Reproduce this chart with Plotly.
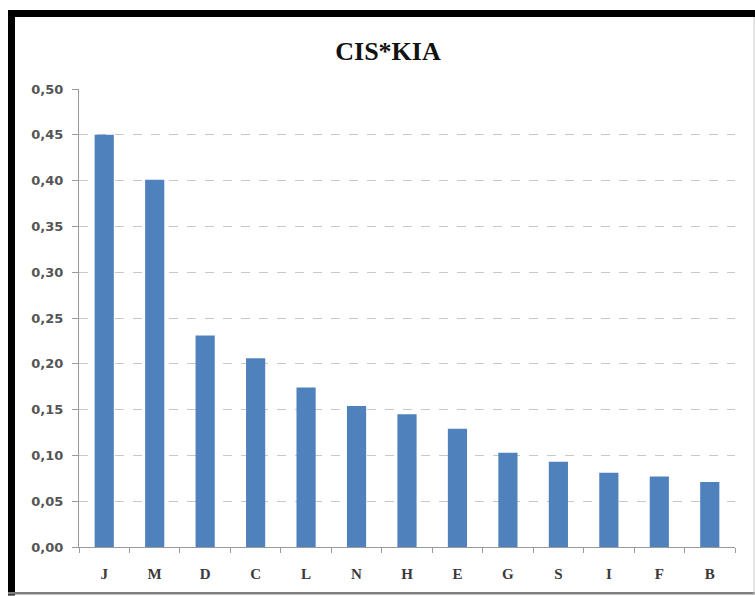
import plotly.graph_objects as go

categories = ["J", "M", "D", "C", "L", "N", "H", "E", "G", "S", "I", "F", "B"]
values = [0.450, 0.401, 0.231, 0.206, 0.174, 0.154, 0.145, 0.129, 0.103, 0.093, 0.081, 0.077, 0.071]
y_ticks = [0.0, 0.05, 0.10, 0.15, 0.20, 0.25, 0.30, 0.35, 0.40, 0.45, 0.50]

W, H = 755, 596
ML, MR, MT, MB = 79, 20, 89, 48.5
PW, PH = W - ML - MR, H - MT - MB


def px(x):
    return (x - ML) / PW


def py(y):
    return (H - MB - y) / PH


fig = go.Figure(
    go.Bar(
        x=categories,
        y=values,
        marker=dict(color="#4F81BD", line=dict(width=0)),
        width=0.38,
    )
)

P = dict(xref="paper", yref="paper")
frame = [
    # heavy black top and left edges
    dict(type="rect", x0=px(8), x1=px(755), y0=py(10), y1=py(17),
         fillcolor="#000000", line=dict(width=0), **P),
    dict(type="rect", x0=px(8), x1=px(15), y0=py(10), y1=py(596),
         fillcolor="#000000", line=dict(width=0), **P),
    # thin grey bottom and right edges
    dict(type="rect", x0=px(8), x1=px(755), y0=py(592.5), y1=py(595),
         fillcolor="#808080", line=dict(width=0), **P),
    dict(type="line", x0=px(754), x1=px(754), y0=py(17), y1=py(595),
         line=dict(color="#c8c8c8", width=1), **P),
]

fig.update_layout(
    width=W,
    height=H,
    margin=dict(l=ML, r=MR, t=MT, b=MB),
    paper_bgcolor="white",
    plot_bgcolor="white",
    separators=",.",
    showlegend=False,
    title=dict(
        text="<b>CIS*KIA</b>",
        x=388 / W,
        xanchor="center",
        y=1 - 51 / H,
        yanchor="middle",
        font=dict(family="Liberation Serif", size=26, color="#111111"),
    ),
    shapes=frame,
    xaxis=dict(
        showline=True,
        linecolor="#9a9a9a",
        linewidth=1,
        ticks="outside",
        tickson="boundaries",
        ticklen=5,
        tickcolor="#9a9a9a",
        showgrid=False,
        tickfont=dict(family="Liberation Serif", size=15, color="#3a3a3a",
                      weight="bold"),
        ticklabelstandoff=13,
    ),
    yaxis=dict(
        range=[0, 0.5],
        tickvals=y_ticks,
        tickformat=".2f",
        showline=True,
        linecolor="#9a9a9a",
        linewidth=1,
        ticks="outside",
        ticklen=6,
        tickcolor="#9a9a9a",
        showgrid=True,
        gridcolor="#c8c8c8",
        griddash="dash",
        gridwidth=1,
        zeroline=False,
        tickfont=dict(family="DejaVu Sans", size=13, color="#555555",
                      weight="bold"),
        ticklabelstandoff=6,
    ),
)

fig.write_html("out.html")
